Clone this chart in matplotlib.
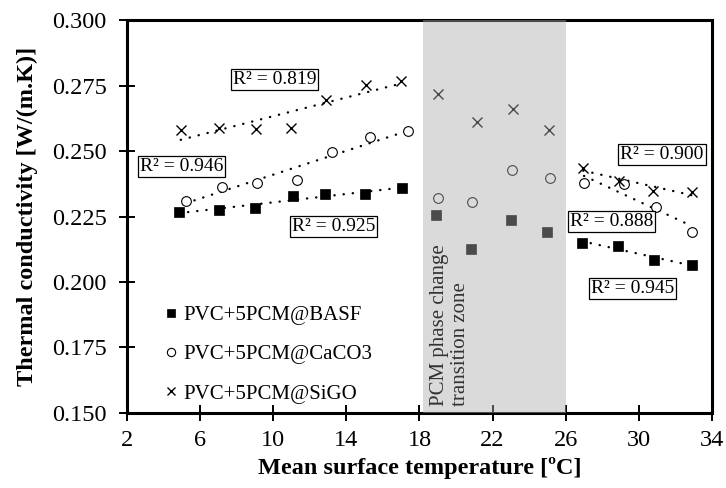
import numpy as np
import matplotlib
matplotlib.use("Agg")
import matplotlib.pyplot as plt
from matplotlib.lines import Line2D

plt.rcParams["font.family"] = ["Liberation Serif", "DejaVu Serif"]

# Measured thermal conductivity vs mean surface temperature
basf_t = [4.84, 7.03, 9.00, 11.08, 12.83, 15.02, 17.04, 18.90, 20.82, 22.99, 24.96, 26.87, 28.88, 30.85, 32.89]
basf_k = [0.2267, 0.2275, 0.2282, 0.2328, 0.2336, 0.2336, 0.2359, 0.2256, 0.2125, 0.2237, 0.2192, 0.2150, 0.2139, 0.2084, 0.2065]

caco3_t = [5.21, 7.18, 9.13, 11.32, 13.23, 15.29, 17.39, 19.00, 20.86, 23.08, 25.14, 27.00, 29.20, 30.92, 32.92]
caco3_k = [0.2310, 0.2364, 0.2378, 0.2389, 0.2497, 0.2552, 0.2577, 0.2319, 0.2304, 0.2427, 0.2398, 0.2377, 0.2373, 0.2287, 0.2192]

sigo_t = [4.94, 7.05, 9.06, 10.95, 12.89, 15.06, 16.97, 19.03, 21.13, 23.10, 25.09, 26.96, 28.90, 30.79, 32.89]
sigo_k = [0.2580, 0.2589, 0.2584, 0.2587, 0.2695, 0.2752, 0.2767, 0.2716, 0.2610, 0.2659, 0.2580, 0.2436, 0.2387, 0.2347, 0.2345]

series_labels = ["PVC+5PCM@BASF", "PVC+5PCM@CaCO3", "PVC+5PCM@SiGO"]

# Phase-change transition zone (°C)
zone = [18.2, 26.0]
zone_label = "PCM phase change\ntransition zone"

# Coefficients of determination of the linear fits (text, x, y)
r2_labels = ["R² = 0.819", "R² = 0.946", "R² = 0.925", "R² = 0.900", "R² = 0.888", "R² = 0.945"]
r2_x = [10.07, 4.99, 13.31, 31.27, 28.49, 29.67]
r2_y = [0.2773, 0.2440, 0.2211, 0.2488, 0.2232, 0.1974]

x_ticks = [2, 6, 10, 14, 18, 22, 26, 30, 34]
y_ticks = [0.150, 0.175, 0.200, 0.225, 0.250, 0.275, 0.300]

fig = plt.figure(figsize=(7.26, 4.88), dpi=100)
ax = fig.add_axes([0.1749, 0.1537, 0.8058, 0.8053])

styles = [
    dict(marker="s", ms=7.2, mfc="black", mec="black", mew=0.5),
    dict(marker="o", ms=7.0, mfc="white", mec="black", mew=0.8),
    dict(marker="x", ms=6.5, mfc="black", mec="black", mew=1.0),
]
data = [(basf_t, basf_k), (caco3_t, caco3_k), (sigo_t, sigo_k)]

handles = []
for (t, k), st, lab in zip(data, styles, series_labels):
    t = np.asarray(t)
    k = np.asarray(k)
    ax.plot(t, k, linestyle="none", zorder=4, **st)
    # Linear trendlines for the segments below and above the transition zone
    for sel in (slice(0, 7), slice(11, 15)):
        ts, ks = t[sel], k[sel]
        p = np.polyfit(ts, ks, 1)
        tt = np.array([ts.min(), ts.max()])
        ax.plot(tt, np.polyval(p, tt), color="black", lw=1.7,
                linestyle=(0, (0.1, 3.8)), dash_capstyle="round", zorder=3)
    hs = dict(st)
    hs["ms"] = st["ms"] * 0.85
    handles.append(Line2D([], [], linestyle="none", label=lab, **hs))

for txt, x, y in zip(r2_labels, r2_x, r2_y):
    ax.text(x, y, txt, ha="center", va="center", fontsize=14, zorder=5,
            bbox=dict(boxstyle="square,pad=0.1", fc="white", ec="black", lw=0.9))

# Translucent grey band laid over the markers inside the transition zone
ax.axvspan(zone[0], zone[1], color="#adacad", alpha=0.44, lw=0, zorder=10)

ax.text((zone[0] + zone[1]) / 2 - 2.45, 0.1528, zone_label, rotation=90,
        ha="center", va="bottom", multialignment="left", fontsize=15,
        linespacing=1.15, color="#333333", zorder=11)

leg = ax.legend(handles=handles, loc="lower left", bbox_to_anchor=(0.049, 0.0),
                frameon=False, fontsize=15, handlelength=0.6, handletextpad=0.3,
                labelspacing=0.95, borderaxespad=0.05)

ax.set_xlim(2, 34)
ax.set_ylim(0.150, 0.300)
ax.set_xticks(x_ticks)
ax.set_yticks(y_ticks)
ax.set_yticklabels([f"{v:.3f}" for v in y_ticks])
ax.tick_params(direction="inout", length=11, width=1.4, labelsize=17.5, pad=7)
ax.tick_params(axis="y", pad=9)
for sp in ax.spines.values():
    sp.set_linewidth(2.2)
    sp.set_zorder(8)

ax.set_xlabel("Mean surface temperature [ºC]", fontsize=17.5, fontweight="bold", labelpad=4)
ax.set_ylabel("Thermal conductivity [W/(m.K)]", fontsize=17.5, fontweight="bold", labelpad=10)

fig.savefig("out.png", dpi=100)
